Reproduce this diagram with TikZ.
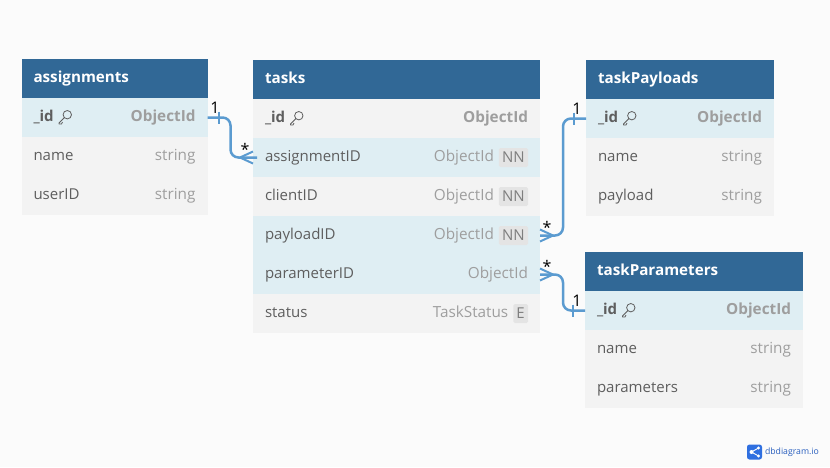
\documentclass[tikz,border=0pt]{standalone}
\usepackage{fontspec}
\setmainfont{Open Sans}
\usetikzlibrary{positioning}

\definecolor{pagebg}{HTML}{FBFBFB}
\definecolor{headblue}{HTML}{316896}
\definecolor{rowblue}{HTML}{DFEEF3}
\definecolor{rowgray}{HTML}{F3F3F3}
\definecolor{fieldtxt}{HTML}{5E5E5E}
\definecolor{typetxt}{HTML}{9E9E9E}
\definecolor{badgebg}{HTML}{E4E4E4}
\definecolor{relblue}{HTML}{5B9BD0}
\definecolor{logoblue}{HTML}{2F6FE0}

\begin{document}
\begin{tikzpicture}[
        x=1pt, y=-1pt,
        every node/.style={inner sep=0pt, outer sep=0pt},
        tblhead/.style={
            fill=headblue, text=white, font=\fontsize{15.2}{16}\selectfont\bfseries,
            minimum height=39pt, text width=#1-24pt, inner xsep=12pt, align=left,
            text height=10.5pt, text depth=3pt, anchor=north west
        },
        rowb/.style={
            fill=rowblue, text=fieldtxt, font=\fontsize{15}{16}\selectfont,
            minimum height=39pt, text width=#1-24pt, inner xsep=12pt, align=left,
            text height=10.5pt, text depth=3pt
        },
        rowg/.style={rowb=#1, fill=rowgray},
        typ/.style={text=typetxt, font=\fontsize{15.3}{16}\selectfont, text height=10.5pt, text depth=3pt, anchor=east},
        badge/.style={
            fill=badgebg, text=fieldtxt!80, rounded corners=1.5pt, font=\fontsize{15}{16}\selectfont,
            minimum height=19pt, inner xsep=3.2pt, anchor=east
        },
        rel/.style={draw=relblue, line width=2.5pt, rounded corners=8pt},
        card/.style={text=black, font=\fontsize{16}{16}\selectfont},
        keyicon/.pic={
            \draw[fieldtxt, line width=.8pt] (2.8,-2.8) circle (4.2);
            \draw[fieldtxt, line width=.8pt, line join=round] (.2,-.2) -- (-5.5,5.5) -- (-5.5,6.5) -- (-3,6.5) -- (-2,4.5);
        }
    ]
        \fill[pagebg] (0,0) rectangle (830,467);
        \useasboundingbox (0,0) rectangle (830,467);

        % assignments
        \node[tblhead=186pt] (assign) at (21.5,59) {assignments};
        \node[rowb=186pt, below=0pt of assign] (assignId) {\textbf{\_id}};
        \node[rowg=186pt, below=0pt of assignId] (assignName) {name};
        \node[rowg=186pt, below=0pt of assignName] (assignUser) {userID};
        \node[typ] (assignIdT) at ([xshift=-12pt]assignId.east) {\textbf{ObjectId}};
        \node[typ] (assignNameT) at ([xshift=-12pt]assignName.east) {string};
        \node[typ] (assignUserT) at ([xshift=-12pt]assignUser.east) {string};
        \pic at ([xshift=43pt]assignId.west) {keyicon};

        % tasks
        \node[tblhead=287pt] (tasks) at (253,60) {tasks};
        \node[rowg=287pt, below=0pt of tasks] (tasksId) {\textbf{\_id}};
        \node[rowb=287pt, below=0pt of tasksId] (tasksAssign) {assignmentID};
        \node[rowg=287pt, below=0pt of tasksAssign] (tasksClient) {clientID};
        \node[rowb=287pt, below=0pt of tasksClient] (tasksPayload) {payloadID};
        \node[rowb=287pt, below=0pt of tasksPayload] (tasksParam) {parameterID};
        \node[rowg=287pt, below=0pt of tasksParam] (tasksStatus) {status};
        \pic at ([xshift=43pt]tasksId.west) {keyicon};
        \node[typ] (tasksIdT) at ([xshift=-12pt]tasksId.east) {\textbf{ObjectId}};
        \node[badge] (nnA) at ([xshift=-12pt]tasksAssign.east) {NN};
        \node[badge] (nnC) at ([xshift=-12pt]tasksClient.east) {NN};
        \node[badge] (nnP) at ([xshift=-12pt]tasksPayload.east) {NN};
        \node[badge] (enS) at ([xshift=-12pt]tasksStatus.east) {E};
        \node[typ, left=5pt of nnA] (tasksAssignT) {ObjectId};
        \node[typ, left=5pt of nnC] (tasksClientT) {ObjectId};
        \node[typ, left=5pt of nnP] (tasksPayloadT) {ObjectId};
        \node[typ] (tasksParamT) at ([xshift=-12pt]tasksParam.east) {ObjectId};
        \node[typ, left=5pt of enS] (tasksStatusT) {TaskStatus};

        % taskPayloads
        \node[tblhead=188pt] (payloads) at (586,60) {taskPayloads};
        \node[rowb=188pt, below=0pt of payloads] (payloadsId) {\textbf{\_id}};
        \node[rowg=188pt, below=0pt of payloadsId] (payloadsName) {name};
        \node[rowg=188pt, below=0pt of payloadsName] (payloadsData) {payload};
        \pic at ([xshift=43pt]payloadsId.west) {keyicon};
        \node[typ] (payloadsIdT) at ([xshift=-12pt]payloadsId.east) {\textbf{ObjectId}};
        \node[typ] (payloadsNameT) at ([xshift=-12pt]payloadsName.east) {string};
        \node[typ] (payloadsDataT) at ([xshift=-12pt]payloadsData.east) {string};

        % taskParameters
        \node[tblhead=218pt] (params) at (585,252) {taskParameters};
        \node[rowb=218pt, below=0pt of params] (paramsId) {\textbf{\_id}};
        \node[rowg=218pt, below=0pt of paramsId] (paramsName) {name};
        \node[rowg=218pt, below=0pt of paramsName] (paramsData) {parameters};
        \pic at ([xshift=43pt]paramsId.west) {keyicon};
        \node[typ] (paramsIdT) at ([xshift=-12pt]paramsId.east) {\textbf{ObjectId}};
        \node[typ] (paramsNameT) at ([xshift=-12pt]paramsName.east) {string};
        \node[typ] (paramsDataT) at ([xshift=-12pt]paramsData.east) {string};

        % Connectors
        \draw[rel] (assignId.east) -| ++(23,20) |- ([xshift=-4pt]tasksAssign.west) -- (tasksAssign.west);
        \draw[rel] (tasksPayload.east) -| ++(23,-60) |- (payloadsId.west);
        \draw[rel] (tasksParam.east) -| ++(23,20) |- (paramsId.west);

        % Ticks on the one side
        \draw[relblue, line width=2pt] ([xshift=11pt,yshift=6pt]assignId.east) -- ([xshift=11pt,yshift=-6pt]assignId.east);
        \draw[relblue, line width=2pt] ([xshift=-12pt,yshift=6pt]payloadsId.west) -- ([xshift=-12pt,yshift=-6pt]payloadsId.west);
        \draw[relblue, line width=2pt] ([xshift=-12pt,yshift=6pt]paramsId.west) -- ([xshift=-12pt,yshift=-6pt]paramsId.west);

        % Crow feet on the many side
        \draw[relblue, line width=2pt] ([yshift=6pt]tasksAssign.west) -- ([xshift=-13pt]tasksAssign.west) -- ([yshift=-6pt]tasksAssign.west);
        \draw[relblue, line width=2pt] ([yshift=6pt]tasksPayload.east) -- ([xshift=13pt]tasksPayload.east) -- ([yshift=-6pt]tasksPayload.east);
        \draw[relblue, line width=2pt] ([yshift=6pt]tasksParam.east) -- ([xshift=13pt]tasksParam.east) -- ([yshift=-6pt]tasksParam.east);

        % Cardinalities
        \node[card] (oneA) at (215,108) {1};
        \node[card] (manyA) at (245,149) {*};
        \node[card] (oneP) at (577,109) {1};
        \node[card] (manyP) at (547,227) {*};
        \node[card] (oneR) at (577,301) {1};
        \node[card] (manyR) at (547,266) {*};

        % Logo
        \node[fill=logoblue, rounded corners=2.5pt, minimum size=15pt] (logo) at (754.5,452) {};
        \draw[white, line width=.9pt] ([xshift=4pt,yshift=-4pt]logo.center) -- ([xshift=-3pt]logo.center) -- ([xshift=4pt,yshift=4pt]logo.center);
        \fill[white] ([xshift=4pt,yshift=-4pt]logo.center) circle (1.7) ([xshift=-3pt]logo.center) circle (2) ([xshift=4pt,yshift=4pt]logo.center) circle (1.7);
        \node[right=3pt of logo, font=\fontsize{8.7}{10}\selectfont, text=logoblue!85!black] (logoText) {dbdiagram.io};
    \end{tikzpicture}
\end{document}
